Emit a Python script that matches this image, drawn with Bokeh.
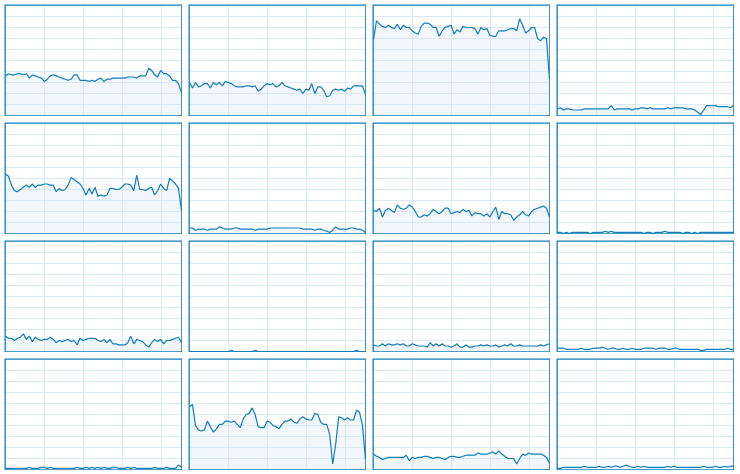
from bokeh.plotting import figure
from bokeh.layouts import gridplot
from bokeh.models import Range1d, FixedTicker, BoxAnnotation
from bokeh.embed import file_html
from bokeh.resources import INLINE

# 60 one-second samples per logical processor (CPU utilisation in %)
seconds = list(range(60))

cpu_00 = [36,38,37,37,38,38,37,38,34,37,36,35,34,31,33,36,37,36,35,34,33,32,33,37,37,32,32,32,31,32,
          31,33,34,31,33,33,34,34,34,34,34,35,35,35,34,36,36,36,43,41,37,35,41,38,38,36,32,32,29,21]
cpu_01 = [30,25,30,26,27,29,29,25,30,28,30,27,31,30,29,27,26,26,26,27,27,26,27,22,24,27,29,28,29,26,
          27,30,27,26,25,24,23,24,20,24,23,29,20,26,26,23,17,18,23,24,23,24,22,25,24,27,27,27,27,19]
cpu_02 = [69,86,83,81,80,82,80,79,83,78,82,80,80,77,75,74,81,84,84,83,80,80,72,77,80,81,82,74,78,76,
          81,80,80,80,79,74,80,78,79,73,72,72,77,77,77,78,79,79,77,88,82,75,77,80,80,70,68,71,70,33]
cpu_03 = [6,7,5,6,6,5,5,5,5,6,6,6,6,6,6,6,6,6,9,5,6,6,6,6,6,5,6,6,7,7,
          6,7,6,6,6,6,6,7,6,7,7,7,7,6,6,6,5,3,1,5,9,9,9,9,8,8,8,8,7,9]
cpu_04 = [54,52,44,39,38,40,42,44,42,45,42,44,44,45,45,44,44,38,41,39,40,44,51,49,47,45,41,35,41,36,
          42,34,35,34,35,41,41,40,40,42,45,45,44,39,53,40,40,39,41,42,35,39,45,41,39,50,48,45,41,21]
cpu_05 = [5,5,3,4,4,4,3,4,4,4,6,5,4,4,4,5,5,4,4,4,4,4,3,4,4,4,4,5,5,5,
          5,5,5,5,5,5,5,5,4,4,4,4,3,4,4,3,2,1,3,6,4,4,4,4,5,5,4,4,3,1]
cpu_06 = [21,20,23,15,21,23,21,19,26,23,22,23,26,24,20,15,15,17,16,18,22,20,18,20,23,23,18,19,20,19,
          22,20,21,16,19,18,18,16,18,15,20,24,13,20,18,18,17,12,15,17,20,17,16,20,22,23,24,25,23,15]
cpu_07 = [1,1,0,1,0,1,1,1,1,1,1,0,1,1,1,1,2,1,2,1,1,1,1,1,1,1,1,1,1,0,
          1,1,0,1,1,1,2,1,1,1,1,1,0,1,1,0,1,0,1,1,1,1,1,1,1,1,1,1,1,1]
cpu_08 = [14,12,12,10,12,13,16,11,14,9,13,11,10,11,11,13,11,8,10,9,10,11,9,10,6,12,10,11,12,12,
          12,10,9,11,8,11,7,7,6,6,6,8,14,7,11,10,9,6,4,8,11,9,11,7,10,10,11,12,13,8]
cpu_09 = [0,0,0,0,0,0,0,0,0,0,0,0,0,0,1,0,0,0,0,0,0,0,1,0,0,0,0,0,0,0,
          0,0,0,0,0,0,0,0,0,0,0,0,0,0,0,0,0,0,0,0,0,0,0,0,0,0,1,0,0,0]
cpu_10 = [6,5,5,7,5,7,6,6,7,6,7,5,5,7,6,5,5,5,4,8,5,7,5,7,5,5,4,5,7,4,
          4,6,4,4,5,5,6,5,6,5,5,6,4,5,6,5,7,5,5,6,5,5,5,5,5,5,6,5,6,7]
cpu_11 = [3,3,3,2,2,2,2,2,3,2,2,2,3,3,3,4,3,2,3,3,2,2,3,2,2,3,2,2,2,3,
          3,3,3,2,3,3,3,2,2,3,3,2,2,2,2,2,2,2,1,1,2,2,2,2,2,2,2,3,2,2]
cpu_12 = [1,1,1,1,1,1,1,1,2,1,1,1,2,2,1,2,1,1,1,1,1,1,1,1,2,1,1,2,1,2,
          1,2,1,2,1,1,2,2,1,1,1,2,1,2,1,1,1,1,1,1,2,1,1,1,2,1,1,1,4,2]
cpu_13 = [57,59,40,36,35,36,44,39,34,37,41,41,44,44,43,44,41,38,46,50,51,56,50,39,38,38,44,43,40,39,
          37,41,44,44,46,43,42,46,48,46,45,45,51,50,43,41,41,32,5,23,48,47,45,47,45,45,54,52,40,9]
cpu_14 = [14,12,11,9,10,11,11,11,11,11,11,13,8,11,10,11,11,12,12,11,10,11,11,10,9,11,12,12,11,11,
          12,13,13,13,13,15,14,14,14,15,16,14,17,14,12,10,10,10,5,10,14,13,15,14,14,14,14,13,11,6]
cpu_15 = [1,1,2,2,2,2,2,2,2,3,2,2,2,2,3,2,2,3,2,3,3,2,3,4,3,2,2,3,2,3,
          2,2,2,2,2,2,2,3,2,3,2,2,2,2,2,2,2,2,2,3,2,2,2,3,2,2,3,2,3,3]

cores = [cpu_00, cpu_01, cpu_02, cpu_03, cpu_04, cpu_05, cpu_06, cpu_07,
         cpu_08, cpu_09, cpu_10, cpu_11, cpu_12, cpu_13, cpu_14, cpu_15]

grid_x = [13.0, 26.05, 39.1, 52.15]
grid_y = [10, 20, 30, 40, 50, 60, 70, 80, 90]

BLUE = "#117dbb"
FILL = "#f1f6fa"
GRID = "#d9eaf4"

W, H = 178, 112          # outer panel size in px (1px border inside)
x_pad = 59 / (W - 2)     # one pixel, in data units, so the border sits outside the data
y_pad = 100 / (H - 2)

figs = []
for vals in cores:
    p = figure(width=W, height=H, output_backend="svg", toolbar_location=None,
               x_range=Range1d(0 - x_pad, 59 + x_pad), y_range=Range1d(0 - y_pad, 100 + y_pad),
               x_axis_location=None, y_axis_location=None, min_border=0,
               background_fill_color="white", border_fill_color="white")
    p.outline_line_color = None
    p.xgrid.ticker = FixedTicker(ticks=grid_x)
    p.ygrid.ticker = FixedTicker(ticks=grid_y)
    p.grid.grid_line_color = GRID
    p.grid.grid_line_width = 1
    p.varea(x=seconds, y1=0, y2=vals, fill_color=FILL, level="image")
    p.line(seconds, vals, line_color=BLUE, line_width=1.2)
    p.add_layout(BoxAnnotation(fill_alpha=0, line_color=BLUE, line_width=2.6, line_alpha=1.0))
    figs.append(p)

grid = gridplot(figs, ncols=4, toolbar_location=None)
grid.spacing = 6
grid.margin = (4, 0, 0, 4)

open("out.html", "w").write(file_html(grid, INLINE))
